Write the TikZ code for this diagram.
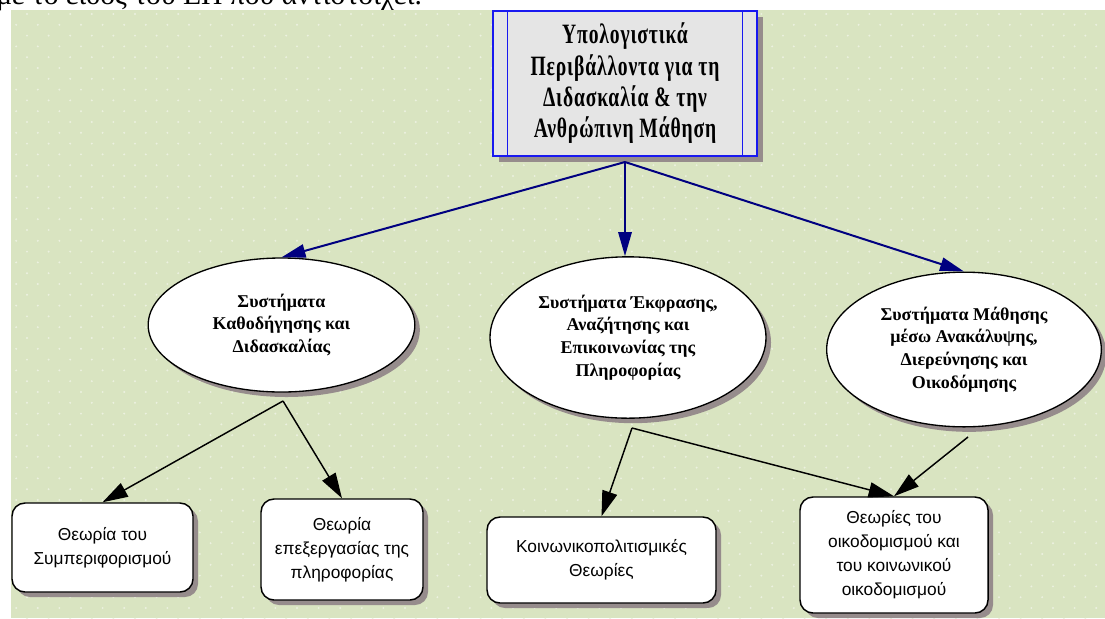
\documentclass[tikz,border=0pt]{standalone}
\usepackage{fontspec}
\usepackage{tikz}
\usetikzlibrary{arrows.meta, shapes.geometric, shadows}
\newfontfamily\pagefont{Liberation Serif}
\newfontfamily\rootfont[FakeStretch=0.7, LetterSpace=3]{Liberation Serif}
\newfontfamily\theofont{Liberation Sans}
\definecolor{paper}{RGB}{217,228,193}
\definecolor{paperdot}{RGB}{236,241,224}
\definecolor{shade}{RGB}{150,140,140}
\definecolor{frameblue}{RGB}{25,25,240}
\definecolor{navyline}{RGB}{0,0,128}
\definecolor{headgray}{RGB}{229,229,229}
\tikzset{every picture/.append style={x=0.75pt, y=-0.75pt}}
\tikzset{
    shadowed/.style={drop shadow={shadow xshift=#1, shadow yshift=-#1, fill=shade, opacity=1}},
    shadowed/.default=3.75pt,
    headbox/.style={rectangle, draw=frameblue, line width=1pt, fill=headgray,
    	minimum width=198pt, minimum height=108.75pt, align=center, shadowed=4.5pt,
    	font=\rootfont\bfseries\fontsize{21}{23.5}\selectfont},
    system/.style={ellipse, draw, line width=1pt, fill=white, align=center,
    	inner sep=0pt, shadowed, font=\pagefont\bfseries\fontsize{13.5}{17}\selectfont},
    theory/.style={rectangle, rounded corners=9.75pt, draw, line width=1.1pt,
    	fill=white, align=center, shadowed, font=\theofont\fontsize{13}{18}\selectfont},
    lead/.style={navyline, line width=1.5pt, -{Triangle[length=18pt, width=10pt]}},
    feed/.style={black, line width=1.1pt, -{Triangle[length=19pt, width=11.5pt]}}
}

\begin{document}
\begin{tikzpicture}
	\useasboundingbox (0, 0) rectangle (1105, 618);
	% line of the page above the figure
	\begin{scope}
		\clip (0, 0) rectangle (1105, 10);
		\node (pageline) [anchor=base west, inner sep=0pt,
			font=\pagefont\fontsize{22.2}{26}\selectfont] at (-4, 4) {με το είδος του ΕΠ που αντιστοιχεί.};
	\end{scope}
	% dotted sheet
	\fill[paper] (11, 10) rectangle (1105, 618);
	\begin{scope}
		\clip (11, 10) rectangle (1105, 618);
		\fill[paperdot] \foreach \r in {0,...,56} {\foreach \c in {0,...,51}
			{({5.4+21.6*\c+10.8*mod(\r,2)}, {14+10.8*\r}) circle (0.8pt)}};
	\end{scope}

	\node (top) [headbox] at (625, 83.5) {Υπολογιστικά\\Περιβάλλοντα για τη\\Διδασκαλία \& την\\Ανθρώπινη Μάθηση};
	\draw[frameblue, line width=1pt] ([xshift=11.25pt]top.north west) -- ([xshift=11.25pt]top.south west);
	\draw[frameblue, line width=1pt] ([xshift=-11.25pt]top.north east) -- ([xshift=-11.25pt]top.south east);

	\node (kath) [system, minimum width=200pt, minimum height=100.5pt] at (281.5, 325) {Συστήματα\\Καθοδήγησης και\\Διδασκαλίας};
	\node (expr) [system, minimum width=207pt, minimum height=121pt] at (628, 337.5) {Συστήματα Έκφρασης,\\Αναζήτησης και\\Επικοινωνίας της\\Πληροφορίας};
	\node (disc) [system, minimum width=206pt, minimum height=116pt] at (964, 349.5) {Συστήματα Μάθησης\\μέσω Ανακάλυψης,\\Διερεύνησης και\\Οικοδόμησης};

	\node (behav) [theory, minimum width=135.75pt, minimum height=66.75pt] at (102.5, 547.5) {Θεωρία του\\Συμπεριφορισμού};
	\node (info) [theory, minimum width=121.5pt, minimum height=75.75pt] at (342, 549.5) {Θεωρία\\επεξεργασίας της\\πληροφορίας};
	\node (socio) [theory, minimum width=171.75pt, minimum height=64.5pt] at (601.5, 560) {Κοινωνικοπολιτισμικές\\Θεωρίες};
	\node (constr) [theory, minimum width=141pt, minimum height=87pt] at (894, 555) {Θεωρίες του\\οικοδομισμού και\\του κοινωνικού\\οικοδομισμού};

	\coordinate (kathfork) at (283, 401);
	\coordinate (exprfork) at (632, 428);
	\coordinate (discfoot) at (968, 437);

	\draw[lead] ([yshift=-4pt]top.south) -- (kath.north);
	\draw[lead] ([yshift=-4pt]top.south) -- (top.south |- expr.north);
	\draw[lead] ([yshift=-4pt]top.south) -- (disc.north);
	\draw[feed] (kathfork) -- (behav.north);
	\draw[feed] (kathfork) -- (info.north);
	\draw[feed] (exprfork) -- (socio.north);
	\draw[feed] (exprfork) -- (constr.north);
	\draw[feed] (discfoot) -- (constr.north);
\end{tikzpicture}
\end{document}
